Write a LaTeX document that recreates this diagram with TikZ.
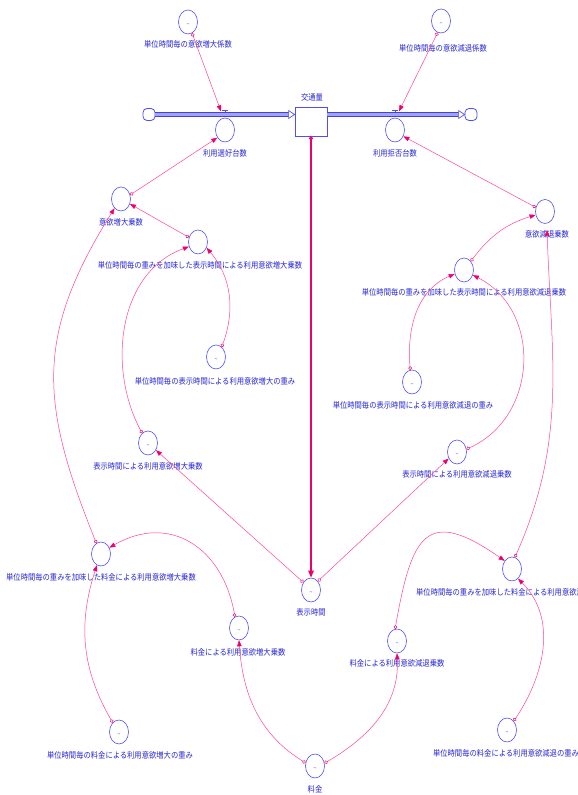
\documentclass[tikz,border=0pt]{standalone}
\usepackage{fontspec}
\setmainfont{Noto Sans CJK JP}[FakeStretch=0.88]
\usetikzlibrary{arrows.meta,shapes.geometric}
\definecolor{cblue}{RGB}{80,80,240}
\definecolor{tblue}{RGB}{40,40,215}
\definecolor{lpink}{RGB}{255,70,150}
\definecolor{dpink}{RGB}{240,0,110}
\definecolor{pipefill}{RGB}{160,160,255}
\begin{document}
\begin{tikzpicture}[x=1pt,y=1pt,
  var/.style={ellipse, draw=cblue, line width=0.6pt, minimum width=19pt, minimum height=24pt, inner sep=0pt},
  lk/.style={var, path picture={\node[text=cblue,inner sep=0pt,font=\fontsize{6}{6}\selectfont] at ([yshift=-3pt]path picture bounding box.center) {\textasciitilde};}},
  lbl/.style={text=tblue, font=\fontsize{8.3}{9}\selectfont, inner sep=0pt},
  lnk/.style={draw=lpink, line width=0.5pt, {Circle[open,length=3.6pt,width=3.6pt,color=dpink]}-{Triangle[length=6pt,width=4.5pt,color=dpink]}},
  thicklnk/.style={draw=dpink, line width=1.3pt, {Circle[open,length=4pt,width=4pt]}-{Triangle[length=7pt,width=5.5pt]}},
  stockbox/.style={rectangle, draw=cblue, line width=0.8pt, minimum width=32pt, minimum height=29pt, inner sep=0pt},
  cloudbox/.style={rectangle, rounded corners=4pt, draw=cblue, line width=0.8pt, minimum size=12pt, inner sep=0pt},
  valvept/.style={rectangle, minimum width=10pt, minimum height=6pt, inner sep=0pt},
  pipe/.style={draw=cblue!85!black, line width=1.1pt, double=pipefill, double distance=2.2pt},
  tipbox/.style={draw=cblue, fill=white, line width=0.7pt}
]
\fill[white] (0,0) rectangle (578,795);
\useasboundingbox (0,0) rectangle (578,795);

% flow part
\node[cloudbox] (cL) at (149,680.5) {};
\node[cloudbox] (cR) at (471,680.5) {};
\node[stockbox] (box) at (311,673.5) {};
\node[lbl] (boxl) at (312,698) {交通量};
\node[valvept] (v1) at (225,680.5) {};
\node[valvept] (v2) at (395,680.5) {};
\coordinate (pinL) at (box.west |- cL.east);
\coordinate (poutR) at (box.east |- cR.west);
\draw[pipe] (cL.east) -- ([xshift=-6pt]pinL);
\draw[pipe] (poutR) -- ([xshift=-6pt]cR.west);
\draw[tipbox] (pinL) -- ++(-6,4) -- ++(0,-8) -- cycle;
\draw[tipbox] (cR.west) -- ++(-6,4) -- ++(0,-8) -- cycle;
\draw[cblue, line width=0.9pt] ([xshift=-3pt,yshift=4.5pt]v1.center) -- ([xshift=3pt,yshift=4.5pt]v1.center)
  ([yshift=4.5pt]v1.center) -- ([yshift=2pt]v1.center);
\draw[cblue, line width=0.9pt] ([xshift=-3pt,yshift=4.5pt]v2.center) -- ([xshift=3pt,yshift=4.5pt]v2.center)
  ([yshift=4.5pt]v2.center) -- ([yshift=2pt]v2.center);

% variables
\node[lk] (kA) at (188,773) {};
\node[lbl] (kAl) at (188,751) {単位時間毎の意欲増大係数};
\node[lk] (kB) at (441,774) {};
\node[lbl] (kBl) at (443,747) {単位時間毎の意欲減退係数};
\node[var] (uR) at (225,665) {};
\node[lbl] (uRl) at (225,642) {利用選好台数};
\node[var] (uK) at (395,665) {};
\node[lbl] (uKl) at (395,642) {利用拒否台数};
\node[var] (iZ) at (121,596) {};
\node[lbl] (iZl) at (121,573) {意欲増大乗数};
\node[var] (iG) at (545,583.5) {};
\node[lbl] (iGl) at (547,561) {意欲減退乗数};
\node[var] (wHZ) at (198,553) {};
\node[lbl] (wHZl) at (200,530) {単位時間毎の重みを加味した表示時間による利用意欲増大乗数};
\node[var] (wHG) at (464,525) {};
\node[lbl] (wHGl) at (464,503) {単位時間毎の重みを加味した表示時間による利用意欲減退乗数};
\node[lk] (hZw) at (216,438) {};
\node[lbl] (hZwl) at (215,414) {単位時間毎の表示時間による利用意欲増大の重み};
\node[lk] (hGw) at (412,413) {};
\node[lbl] (hGwl) at (413,390) {単位時間毎の表示時間による利用意欲減退の重み};
\node[lk] (hZ) at (148,352) {};
\node[lbl] (hZl) at (148,329) {表示時間による利用意欲増大乗数};
\node[lk] (hG) at (457,343) {};
\node[lbl] (hGl) at (457,321) {表示時間による利用意欲減退乗数};
\node[var] (rZ) at (101,241) {};
\node[lbl] (rZl) at (101,218) {単位時間毎の重みを加味した料金による利用意欲増大乗数};
\node[var] (rG) at (512,226) {};
\node[lbl] (rGl) at (511,203) {単位時間毎の重みを加味した料金による利用意欲減退乗数};
\node[lk] (T) at (311,205) {};
\node[lbl] (Tl) at (311,183) {表示時間};
\node[lk] (fZ) at (239,167) {};
\node[lbl] (fZl) at (238,143) {料金による利用意欲増大乗数};
\node[lk] (fG) at (397,154) {};
\node[lbl] (fGl) at (397,132) {料金による利用意欲減退乗数};
\node[lk] (fZw) at (119,63) {};
\node[lbl] (fZwl) at (120,40) {単位時間毎の料金による利用意欲増大の重み};
\node[lk] (fGw) at (507,65) {};
\node[lbl] (fGwl) at (506,42) {単位時間毎の料金による利用意欲減退の重み};
\node[lk] (F) at (315,29) {};
\node[lbl] (Fl) at (315,6) {料金};

% connectors
\draw[lnk] (kA.-70) -- ([xshift=-4pt]v1.north);
\draw[lnk] (kB.-106) -- ([xshift=4pt]v2.north);
\draw[lnk] (iZ.24) -- (uR.225);
\draw[lnk] (iG.156) -- (uK.-37);
\draw[thicklnk] (box.south) -- (T.north);
\draw[lnk] (wHZ.153) -- (iZ.-29);
\draw[lnk] (hZw.60) to[out=70,in=-50] (wHZ.-34);
\draw[lnk] (hZ.121) to[out=118,in=200] (wHZ.207);
\draw[lnk] (T.135) -- (hZ.-42);
\draw[lnk] (T.52) -- (hG.218);
\draw[lnk] (hG.17) to[out=24,in=-27,looseness=1.15] (wHG.-30);
\draw[lnk] (hGw.98) to[out=95,in=203] (wHG.203);
\draw[lnk] (wHG.52) to[out=53,in=197] (iG.200);
\draw[lnk] (rG.76) to[out=66,in=-88] (iGl.north);
\draw[lnk] (rZ.113) to[out=112,in=238,looseness=1.15] (iZ.235);
\draw[lnk] (fZ.110) to[out=100,in=30,looseness=1.25] (rZ.37);
\draw[lnk] (fZw.124) to[out=120,in=252] (rZ.250);
\draw[lnk] (F.162) to[out=148,in=-86] (fZ.south);
\draw[lnk] (F.17) to[out=30,in=-87] (fG.south);
\draw[lnk] (fG.99) to[out=80,in=145,looseness=1.9] (rG.132);
\draw[lnk] (fGw.53) to[out=56,in=-45] (rG.-58);
\end{tikzpicture}
\end{document}
